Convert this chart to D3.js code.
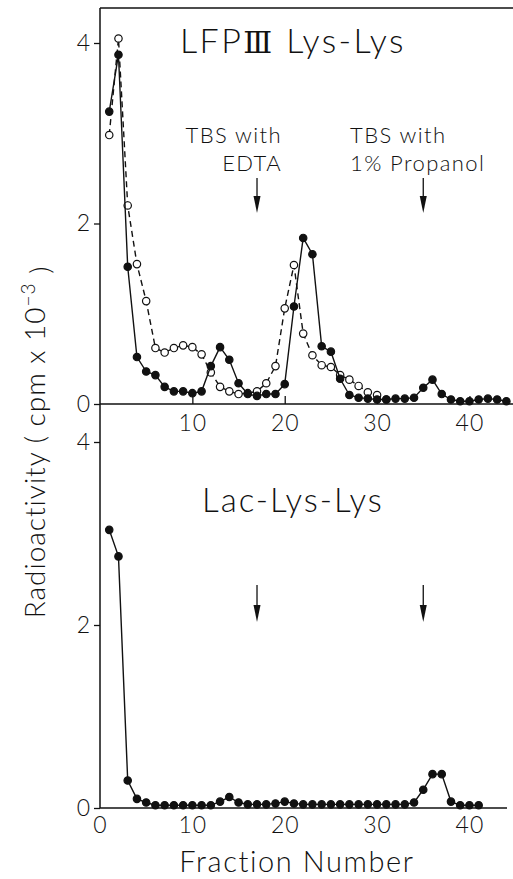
<!DOCTYPE html>
<html lang="en">
<head>
<meta charset="UTF-8">
<title>Radioactivity fractions</title>
<script src="https://cdn.jsdelivr.net/npm/d3@7/dist/d3.min.js"></script>
<style>
  html, body { margin: 0; padding: 0; background: #fff; }
  svg text { font-family: "Lato", "DejaVu Sans", sans-serif; font-weight: 300; fill: #111; }
</style>
</head>
<body>
<div id="chart"></div>
<script>
// --- data (cpm x 10^-3) ---
// top panel, filled circles / solid line, fractions 1..44
const topSolid = [3.24, 3.87, 1.52, 0.52, 0.36, 0.32, 0.19, 0.14, 0.14, 0.12,
                  0.14, 0.42, 0.63, 0.49, 0.23, 0.11, 0.09, 0.11, 0.11, 0.22,
                  1.08, 1.84, 1.66, 0.64, 0.58, 0.28, 0.10, 0.07, 0.06, 0.05,
                  0.05, 0.06, 0.06, 0.07, 0.18, 0.27, 0.11, 0.05, 0.03, 0.03,
                  0.05, 0.06, 0.05, 0.03];
// top panel, open circles / dashed line, fractions 1..31
const topDashed = [2.98, 4.05, 2.20, 1.55, 1.14, 0.62, 0.57, 0.62, 0.65, 0.63,
                   0.55, 0.35, 0.19, 0.14, 0.11, 0.12, 0.14, 0.23, 0.42, 1.06,
                   1.54, 0.78, 0.54, 0.43, 0.41, 0.32, 0.27, 0.20, 0.13, 0.10,
                   0.05];
// bottom panel, Lac-Lys-Lys, fractions 1..41
const bottomSolid = [3.04, 2.75, 0.30, 0.10, 0.06, 0.03, 0.03, 0.03, 0.03, 0.03,
                     0.03, 0.03, 0.07, 0.12, 0.06, 0.04, 0.04, 0.04, 0.05, 0.07,
                     0.05, 0.04, 0.04, 0.04, 0.04, 0.04, 0.04, 0.04, 0.04, 0.04,
                     0.04, 0.04, 0.04, 0.06, 0.20, 0.37, 0.37, 0.07, 0.03, 0.03,
                     0.03];
const arrowFractions = [17, 35];
const xTicksTop = [10, 20, 30, 40];
const xTicksBottom = [0, 10, 20, 30, 40];
const yTicks = [0, 2, 4];
const titleTop = ["LFP", "\u2162", " Lys-Lys"];
const titleBottom = "Lac-Lys-Lys";
const arrowLabels = [["TBS with", "EDTA"], ["TBS with", "1% Propanol"]];

const W = 513, H = 879;
const svg = d3.select("#chart").append("svg").attr("width", W).attr("height", H);

const x = d3.scaleLinear().domain([0, 44.5]).range([100, 511]);
const yTop = d3.scaleLinear().domain([0, 4]).range([404, 43]);
const yBot = d3.scaleLinear().domain([0, 4]).range([808, 442]);

const toPts = arr => arr.map((v, i) => ({ f: i + 1, v: v }));

function drawSeries(data, y, dashed) {
  const line = d3.line().x(d => x(d.f)).y(d => y(d.v));
  svg.append("path").datum(data)
    .attr("d", line)
    .attr("fill", "none")
    .attr("stroke", "#111")
    .attr("stroke-width", 1.4)
    .attr("stroke-dasharray", dashed ? "6,4" : null);
  svg.append("g").selectAll("circle").data(data).join("circle")
    .attr("cx", d => x(d.f))
    .attr("cy", d => y(d.v))
    .attr("r", 3.7)
    .attr("fill", dashed ? "#fff" : "#111")
    .attr("stroke", "#111")
    .attr("stroke-width", 1.2);
}

function styleAxis(g) {
  g.select(".domain").attr("stroke", "#111").attr("stroke-width", 1.5);
  g.selectAll(".tick line").attr("stroke", "#111").attr("stroke-width", 1.3);
  g.selectAll(".tick text").style("font-size", "23px").style("letter-spacing", "1px").attr("fill", "#111");
}

// --- top panel ---
svg.append("line").attr("x1", 100).attr("x2", 513).attr("y1", 8).attr("y2", 8)
  .attr("stroke", "#111").attr("stroke-width", 1.5);

svg.append("g").attr("transform", "translate(0,404)")
  .call(d3.axisBottom(x).tickValues(xTicksTop).tickFormat(d3.format("d"))
    .tickSizeInner(-8).tickSizeOuter(0).tickPadding(11))
  .call(g => g.select(".domain").attr("d", "M100,0H513"))
  .call(styleAxis);

svg.append("g").attr("transform", "translate(100,0)")
  .call(d3.axisLeft(yTop).tickValues(yTicks).tickFormat(d3.format("d"))
    .tickSizeInner(6).tickSizeOuter(0).tickPadding(3))
  .call(g => g.select(".domain").attr("d", "M0,8V404"))
  .call(styleAxis);

drawSeries(toPts(topDashed), yTop, true);
drawSeries(toPts(topSolid), yTop, false);

const tt = svg.append("text").attr("x", 180).attr("y", 53)
  .style("font-size", "34px").style("letter-spacing", "2.4px");
tt.append("tspan").text(titleTop[0]);
tt.append("tspan").style("font-family", "'DejaVu Serif', serif").style("font-weight", "300")
  .style("font-size", "30px").text(titleTop[1]);
tt.append("tspan").text(titleTop[2]);

// --- bottom panel ---
svg.append("g").attr("transform", "translate(0,808)")
  .call(d3.axisBottom(x).tickValues(xTicksBottom).tickFormat(d3.format("d"))
    .tickSizeInner(0).tickSizeOuter(0).tickPadding(9))
  .call(g => g.select(".domain").attr("d", "M100,0H507"))
  .call(styleAxis);

svg.append("g").attr("transform", "translate(100,0)")
  .call(d3.axisLeft(yBot).tickValues(yTicks).tickFormat(d3.format("d"))
    .tickSizeInner(6).tickSizeOuter(0).tickPadding(3))
  .call(g => g.select(".domain").attr("d", "M0,404V808"))
  .call(styleAxis);

drawSeries(toPts(bottomSolid), yBot, false);

svg.append("text").attr("x", 202).attr("y", 512)
  .style("font-size", "33px").style("letter-spacing", "2px").text(titleBottom);

// --- arrows ---
function arrow(xp, y1, y2) {
  svg.append("line").attr("x1", xp).attr("x2", xp).attr("y1", y1).attr("y2", y2 - 14)
    .attr("stroke", "#111").attr("stroke-width", 1.3);
  svg.append("path")
    .attr("d", `M${xp - 3.5},${y2 - 17}L${xp + 3.5},${y2 - 17}L${xp},${y2}Z`)
    .attr("fill", "#111");
}
arrowFractions.forEach((f, i) => {
  arrow(x(f), 178, 213);
  arrow(x(f), 585, 622);
  const ax = i === 0 ? 282 : 350;
  const t = svg.append("text").attr("text-anchor", i === 0 ? "end" : "start")
    .style("font-size", "22px").style("letter-spacing", "1.4px");
  t.append("tspan").attr("x", ax).attr("y", 143).text(arrowLabels[i][0]);
  t.append("tspan").attr("x", ax).attr("y", 171).text(arrowLabels[i][1]);
});

// --- axis titles ---
const yl = svg.append("text")
  .attr("transform", "translate(45,442) rotate(-90)")
  .attr("text-anchor", "middle")
  .style("font-size", "28px").style("letter-spacing", "1px");
yl.append("tspan").text("Radioactivity ( cpm x 10");
yl.append("tspan").attr("dy", "-0.55em").style("font-size", "19px").text("\u22123");
yl.append("tspan").attr("dy", "0.55em").text(" )");

svg.append("text").attr("x", 297).attr("y", 872).attr("text-anchor", "middle")
  .style("font-size", "29px").style("letter-spacing", "1.6px").text("Fraction Number");
</script>
</body>
</html>
